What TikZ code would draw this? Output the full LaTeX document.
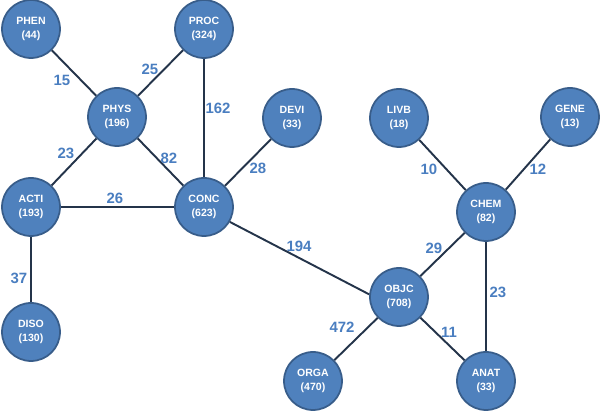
\documentclass[tikz,border=0pt]{standalone}
\usepackage{fontspec}
\setmainfont{Liberation Sans}
\definecolor{nodeblue}{RGB}{79,129,189}
\definecolor{nodeedge}{RGB}{56,93,138}
\definecolor{linkcol}{RGB}{36,52,74}
\definecolor{numblue}{RGB}{74,126,192}
\tikzset{
  sem/.style={circle, draw=nodeedge, line width=1pt, fill=nodeblue, text=white,
    minimum size=1.16cm, inner sep=0pt, align=center,
    font=\fontsize{6}{7.5}\selectfont\bfseries},
  link/.style={draw=linkcol, line width=1.1pt},
  num/.style={text=numblue, font=\fontsize{8.5}{10}\selectfont\bfseries, inner sep=0pt}
}
\begin{document}
\begin{tikzpicture}[x=0.02cm, y=-0.02cm]
	  \useasboundingbox (0,0) rectangle (600,411);
	  \node[sem] (phen) at (31,29) {PHEN\\(44)};
	  \node[sem] (proc) at (204,29) {PROC\\(324)};
	  \node[sem] (phys) at (117,117) {PHYS\\(196)};
	  \node[sem] (devi) at (292,118) {DEVI\\(33)};
	  \node[sem] (livb) at (399,118) {LIVB\\(18)};
	  \node[sem] (gene) at (570,117) {GENE\\(13)};
	  \node[sem] (acti) at (31,207) {ACTI\\(193)};
	  \node[sem] (conc) at (204,207) {CONC\\(623)};
	  \node[sem] (chem) at (486,212) {CHEM\\(82)};
	  \node[sem] (objc) at (399,297) {OBJC\\(708)};
	  \node[sem] (diso) at (31,332) {DISO\\(130)};
	  \node[sem] (orga) at (313,381) {ORGA\\(470)};
	  \node[sem] (anat) at (486,381) {ANAT\\(33)};
	  
	  \draw[link] (phen) -- (phys);
	  \draw[link] (proc) -- (phys);
	  \draw[link] (proc) -- (conc);
	  \draw[link] (phys) -- (acti);
	  \draw[link] (phys) -- (conc);
	  \draw[link] (devi) -- (conc);
	  \draw[link] (acti) -- (conc);
	  \draw[link] (acti) -- (diso);
	  \draw[link] (conc.-30) -- (objc.175);
	  \draw[link] (livb) -- (chem);
	  \draw[link] (gene) -- (chem);
	  \draw[link] (chem) -- (objc);
	  \draw[link] (chem) -- (anat);
	  \draw[link] (objc) -- (orga);
	  \draw[link] (objc) -- (anat);
	  
	  \node[num] (n15) at (62,80) {15};
	  \node[num] (n25) at (150,69) {25};
	  \node[num] (n162) at (218,108) {162};
	  \node[num] (n23a) at (66,153) {23};
	  \node[num] (n82) at (169,158) {82};
	  \node[num] (n28) at (258,168) {28};
	  \node[num] (n26) at (115,198) {26};
	  \node[num] (n37) at (19,278) {37};
	  \node[num] (n194) at (299,246) {194};
	  \node[num] (n10) at (429,169) {10};
	  \node[num] (n12) at (538,169) {12};
	  \node[num] (n29) at (434,248) {29};
	  \node[num] (n472) at (342,327) {472};
	  \node[num] (n11) at (449,332) {11};
	  \node[num] (n23b) at (498,292) {23};
	\end{tikzpicture}
\end{document}
